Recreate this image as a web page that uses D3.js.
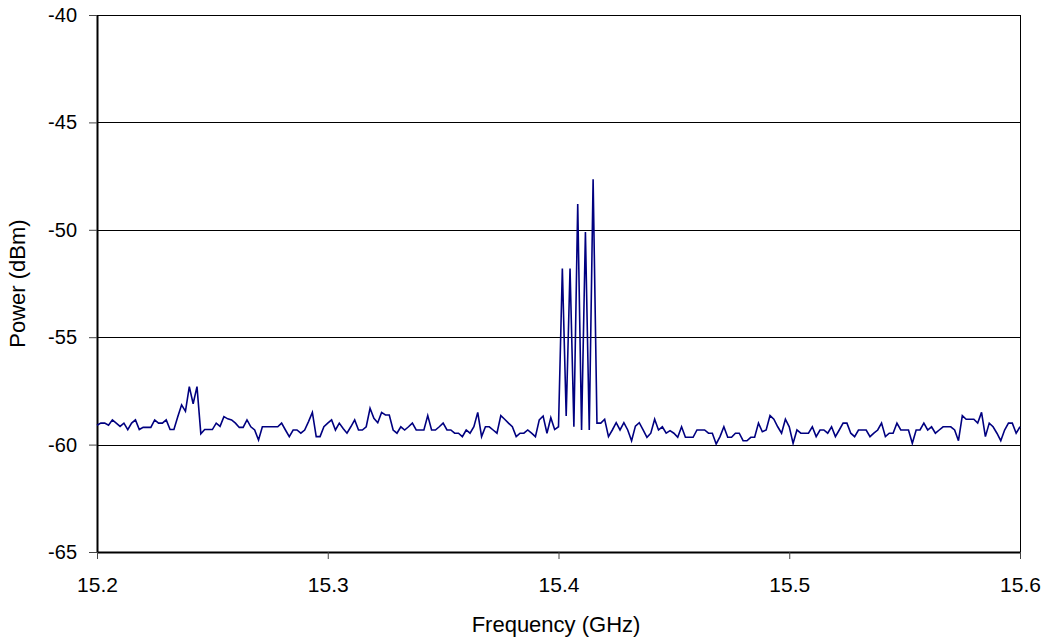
<!DOCTYPE html>
<html>
<head>
<meta charset="utf-8">
<script src="https://cdn.jsdelivr.net/npm/d3@7"></script>
<style>
  body { margin: 0; background: #fff; }
  svg text { font-family: Arial, "Liberation Sans", sans-serif; fill: #000; }
</style>
</head>
<body>
<div id="chart"></div>
<script>
// sweep settings (GHz)
const freqStart = 15.2
const freqStop = 15.6

// measured power, dBm, one value per sweep point
const power = [
  -59.1, -59.0, -59.0, -59.1, -58.85, -59.0, -59.15, -59.0, -59.3, -59.0,
  -58.85, -59.3, -59.2, -59.2, -59.2, -58.85, -59.0, -59.0, -58.85, -59.3,
  -59.3, -58.7, -58.15, -58.45, -57.3, -58.1, -57.3, -59.5, -59.3, -59.3,
  -59.3, -59.0, -59.15, -58.7, -58.8, -58.85, -59.0, -59.2, -59.2, -58.85,
  -59.17, -59.32, -59.79, -59.17, -59.17, -59.17, -59.17, -59.17, -59.0, -59.32,
  -59.63, -59.32, -59.32, -59.47, -59.32, -58.93, -58.5, -59.63, -59.63, -59.17,
  -59.0, -58.85, -59.32, -59.0, -59.25, -59.47, -59.17, -58.85, -59.32, -59.32,
  -59.17, -58.31, -58.78, -58.98, -58.5, -58.62, -58.62, -59.32, -59.47, -59.17,
  -59.32, -59.17, -59.0, -59.32, -59.32, -59.32, -58.65, -59.32, -59.32, -59.17,
  -59.0, -59.32, -59.32, -59.47, -59.47, -59.63, -59.32, -59.47, -59.17, -58.5,
  -59.63, -59.17, -59.17, -59.32, -59.47, -58.65, -58.82, -59.0, -59.17, -59.63,
  -59.47, -59.47, -59.32, -59.47, -59.63, -58.85, -58.67, -59.47, -58.75, -59.3,
  -59.17, -51.8, -58.67, -51.8, -59.17, -48.8, -59.32, -50.1, -59.32, -47.65,
  -59.0, -59.0, -58.82, -59.63, -59.32, -58.98, -59.32, -58.98, -59.32, -59.82,
  -59.14, -58.98, -59.32, -59.66, -59.47, -58.82, -59.32, -59.17, -59.47, -59.35,
  -59.47, -59.66, -59.17, -59.66, -59.66, -59.66, -59.32, -59.32, -59.32, -59.47,
  -59.47, -59.97, -59.63, -59.17, -59.66, -59.66, -59.47, -59.47, -59.82, -59.82,
  -59.66, -59.66, -59.0, -59.4, -59.32, -58.65, -58.82, -59.17, -59.47, -58.82,
  -59.17, -59.94, -59.32, -59.47, -59.47, -59.47, -59.17, -59.63, -59.32, -59.32,
  -59.47, -59.17, -59.63, -59.32, -59.0, -59.0, -59.47, -59.63, -59.32, -59.32,
  -59.32, -59.63, -59.47, -59.32, -59.0, -59.63, -59.47, -59.47, -59.0, -59.32,
  -59.32, -59.32, -59.94, -59.32, -59.32, -59.0, -59.32, -59.17, -59.47, -59.32,
  -59.17, -59.17, -59.17, -59.32, -59.82, -58.65, -58.82, -58.82, -58.82, -59.0,
  -58.5, -59.63, -59.0, -59.17, -59.47, -59.82, -59.32, -59.0, -59.0, -59.47,
  -59.17,
]

const xTicks = [15.2, 15.3, 15.4, 15.5, 15.6]
const yTicks = [-65, -60, -55, -50, -45, -40]

const step = (freqStop - freqStart) / (power.length - 1)
const data = power.map((p, i) => ({ f: freqStart + i * step, p }))

// SIZES
const W = 1044, H = 641
const margin = { top: 15, right: 24, bottom: 89, left: 97 }
const width = W - margin.left - margin.right
const height = H - margin.top - margin.bottom
const FONT = 'Arial, "Liberation Sans", sans-serif'

const x = d3.scaleLinear().domain([freqStart, freqStop]).range([0, width])
const y = d3.scaleLinear().domain([-65, -40]).range([height, 0])

const svg = d3.select('#chart').append('svg')
  .attr('width', W)
  .attr('height', H)

const chart = svg.append('g')
  .attr('transform', `translate(${margin.left},${margin.top})`)

// GRIDLINES
chart.selectAll('line.grid')
  .data(yTicks.filter(d => d > -65 && d < -40))
  .join('line')
  .attr('class', 'grid')
  .attr('x1', 0)
  .attr('x2', width)
  .attr('y1', d => Math.round(y(d)) + 0.5)
  .attr('y2', d => Math.round(y(d)) + 0.5)
  .attr('stroke', '#000')
  .attr('stroke-width', 1)
  .attr('shape-rendering', 'crispEdges')

// frame (top / right)
chart.append('rect')
  .attr('x', 0.5).attr('y', 0.5)
  .attr('width', width).attr('height', height)
  .attr('fill', 'none')
  .attr('stroke', '#000')
  .attr('stroke-width', 1)
  .attr('shape-rendering', 'crispEdges')

// Y AXIS
const yAxis = d3.axisLeft(y)
  .tickValues(yTicks)
  .tickSizeInner(8)
  .tickSizeOuter(0)
  .tickPadding(12)
  .tickFormat(d => String(d))   // plain hyphen, like the original

const yg = chart.append('g').call(yAxis)
yg.select('.domain').attr('stroke', '#000').attr('stroke-width', 2)
yg.selectAll('.tick line').attr('stroke', '#444')
yg.selectAll('.tick text').attr('font-size', 20).style('font-family', FONT)

// X AXIS
const xAxis = d3.axisBottom(x)
  .tickValues(xTicks)
  .tickSizeInner(7)
  .tickSizeOuter(0)
  .tickPadding(18)
  .tickFormat(d3.format('.1f'))

const xg = chart.append('g')
  .attr('transform', `translate(0,${height})`)
  .call(xAxis)
xg.select('.domain').attr('stroke', '#000').attr('stroke-width', 2)
xg.selectAll('.tick line').attr('stroke', '#444')
xg.selectAll('.tick text').attr('font-size', 21).style('font-family', FONT)

// TRACE
const line = d3.line()
  .x(d => x(d.f))
  .y(d => y(d.p))

chart.append('path')
  .datum(data)
  .attr('d', line)
  .attr('fill', 'none')
  .attr('stroke', '#000080')
  .attr('stroke-width', 1.6)
  .attr('stroke-linejoin', 'miter')

// AXIS NAMES
svg.append('text')
  .attr('x', 556)
  .attr('y', 632)
  .attr('text-anchor', 'middle')
  .attr('font-size', 22)
  .text('Frequency (GHz)')

svg.append('text')
  .attr('transform', `translate(25,${margin.top + height / 2}) rotate(-90)`)
  .attr('text-anchor', 'middle')
  .attr('font-size', 22)
  .text('Power (dBm)')
</script>
</body>
</html>
